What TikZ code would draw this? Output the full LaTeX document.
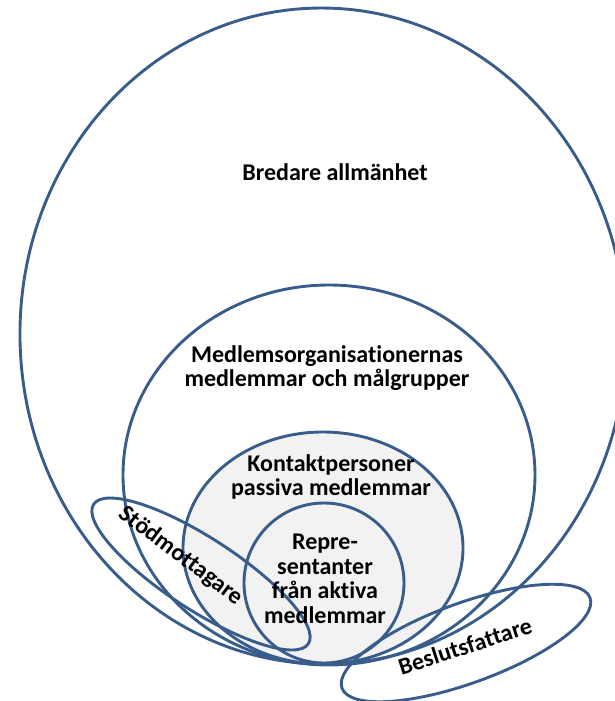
\documentclass[tikz,border=0pt]{standalone}
\usepackage{fontspec}
\setmainfont{Carlito}[Ligatures=NoCommon]
\usetikzlibrary{shapes.geometric}
\definecolor{ring}{RGB}{56,93,138}
\definecolor{shade}{RGB}{242,242,242}
\tikzset{
  ringshape/.style={ellipse, draw=ring, line width=2.9pt, inner sep=0pt},
  lbl/.style={font=\fontsize{24}{24.5}\selectfont\bfseries, align=center, text=black, inner sep=0pt}
}
\begin{document}
\begin{tikzpicture}[x=1pt,y=1pt]
\useasboundingbox (0,0) rectangle (614,-701);
\node[ringshape, minimum width=606, minimum height=656, rotate=2] (outer) at (323,-336) {};
\node[ringshape, minimum width=412, minimum height=380] (medlem) at (329,-475) {};
\node[ringshape, fill=shade, minimum width=280, minimum height=232] (kontakt) at (323,-548) {};
\node[ringshape, fill=shade, minimum width=160, minimum height=160] (repr) at (324,-583) {};
\node[ringshape, minimum width=256, minimum height=72, rotate=-33] (stod) at (201,-574) {};
\node[ringshape, minimum width=264, minimum height=80, rotate=20] (besl) at (466,-643) {};
\node[lbl] (tbred) at (335,-172) {Bredare allmänhet};
\node[lbl] (tmedl) at (327,-368) {Medlemsorganisationernas\\medlemmar och målgrupper};
\node[lbl] (tkont) at (331,-477) {Kontaktpersoner\\passiva medlemmar};
\node[lbl] (trepr) at (325,-579) {Repre-\\sentanter\\från aktiva\\medlemmar};
\node[lbl, rotate=-37] (tstod) at (181,-556) {Stödmottagare};
\node[lbl, rotate=18] (tbesl) at (465,-646) {Beslutsfattare};
\end{tikzpicture}
\end{document}
